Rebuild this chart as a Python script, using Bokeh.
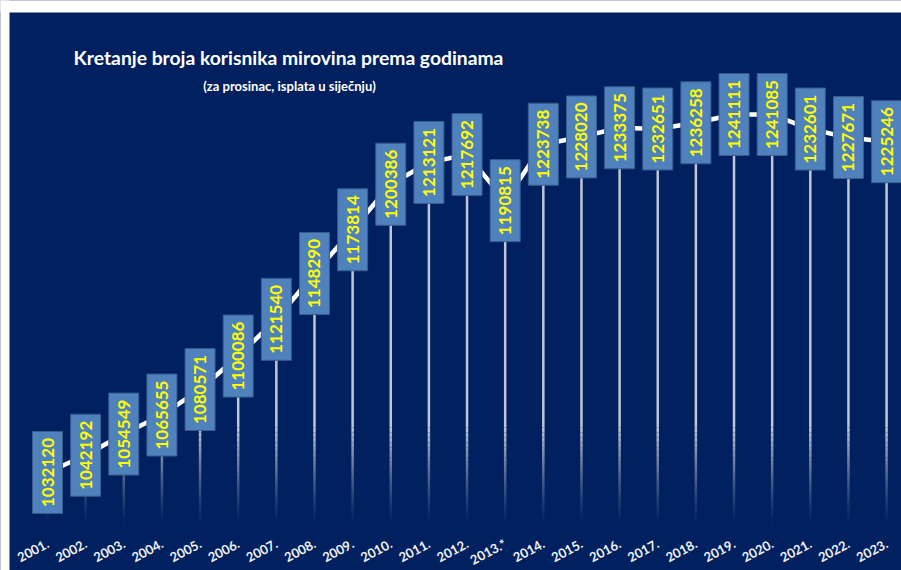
import math
from bokeh.plotting import figure
from bokeh.models import ColumnDataSource, Label
from bokeh.core.properties import value
from bokeh.embed import file_html
from bokeh.resources import INLINE

# ---- data ----
years = ["2001.", "2002.", "2003.", "2004.", "2005.", "2006.", "2007.", "2008.",
         "2009.", "2010.", "2011.", "2012.", "2013.*", "2014.", "2015.", "2016.",
         "2017.", "2018.", "2019.", "2020.", "2021.", "2022.", "2023."]
korisnici = [1032120, 1042192, 1054549, 1065655, 1080571, 1100086, 1121540, 1148290,
             1173814, 1200386, 1213121, 1217692, 1190815, 1223738, 1228020, 1233375,
             1232651, 1236258, 1241111, 1241085, 1232601, 1227671, 1225246]
title_text = "Kretanje broja korisnika mirovina prema godinama"
subtitle_text = "(za prosinac, isplata u siječnju)"

# ---- style / layout constants ----
NAVY = "#002060"
PX = 583.8                    # value units per pixel
XPX = 38.14                   # pixels per year
BASE = 1000000                # baseline of drop lines
Y_TOP = BASE + 527 * PX
Y_BOT = BASE - 43 * PX
X_LEFT = -47 / XPX
X_RIGHT = (901 - 47) / XPX
LABEL_Y = BASE - 15 * PX      # anchor of year labels
FADE_TOP = BASE + 100 * PX
N_BANDS = 40
DROP_COLOR = "#D4D8E2"

idx = list(range(len(years)))
src = ColumnDataSource(dict(x=idx, y=korisnici, label=[str(v) for v in korisnici]))

p = figure(width=901, height=570, output_backend="svg", toolbar_location=None,
           x_range=(X_LEFT, X_RIGHT), y_range=(Y_BOT, Y_TOP),
           x_axis_location=None, y_axis_location=None,
           min_border_left=0, min_border_right=0, min_border_top=0, min_border_bottom=0)
p.background_fill_color = NAVY
p.border_fill_color = NAVY
p.outline_line_color = None
p.grid.visible = False

# drop lines fading towards the baseline
step = (FADE_TOP - BASE) / N_BANDS
for k in range(N_BANDS):
    lo = BASE + k * step
    hi = lo + step
    xs, y0s, y1s = [], [], []
    for i, v in zip(idx, korisnici):
        if v > lo:
            xs.append(i); y0s.append(lo); y1s.append(min(v, hi))
    p.segment(x0=xs, y0=y0s, x1=xs, y1=y1s, line_color=DROP_COLOR, line_width=2.5,
              line_alpha=0.9 * ((k + 0.5) / N_BANDS) ** 1.3)
xs, y0s, y1s = [], [], []
for i, v in zip(idx, korisnici):
    if v > FADE_TOP:
        xs.append(i); y0s.append(FADE_TOP); y1s.append(v)
p.segment(x0=xs, y0=y0s, x1=xs, y1=y1s, line_color=DROP_COLOR, line_width=2.5, line_alpha=0.9)

# trend line
p.line(x="x", y="y", source=src, line_color="white", line_width=4.5)

# label boxes with values
p.rect(x="x", y="y", width=30, height=82, width_units="screen", height_units="screen",
       source=src, fill_color="#4F81BD", line_color="#385D8A", line_width=1)
p.text(x="x", y="y", text="label", source=src, angle=math.pi / 2,
       text_align="center", text_baseline="middle", text_color="#FFFF00",
       text_font=value("Lato"), text_font_style="bold", text_font_size="17px")

# year labels
p.text(x=idx, y=[LABEL_Y] * len(idx), text=years, angle=0.49,
       text_align="right", text_baseline="middle", text_color="#F2F2F2",
       text_font=value("Lato"), text_font_style="bold", text_font_size="13px")

# white margins around the navy panel
p.quad(left=X_LEFT - 1, right=X_RIGHT + 1, bottom=Y_TOP - 12 * PX, top=Y_TOP + 10 * PX,
       fill_color="white", line_color=None)
p.quad(left=X_LEFT - 1, right=X_LEFT + 9 / XPX, bottom=Y_BOT - 10 * PX, top=Y_TOP + 10 * PX,
       fill_color="white", line_color=None)

# titles
p.add_layout(Label(x=288, y=513, x_units="screen", y_units="screen", text=title_text,
                   text_align="center", text_baseline="middle", text_color="white",
                   text_font="Lato", text_font_style="bold", text_font_size="19.3px"))
p.add_layout(Label(x=289, y=485, x_units="screen", y_units="screen", text=subtitle_text,
                   text_align="center", text_baseline="middle", text_color="white",
                   text_font="Lato", text_font_style="bold", text_font_size="13px"))

open("out.html", "w").write(file_html(p, INLINE))
